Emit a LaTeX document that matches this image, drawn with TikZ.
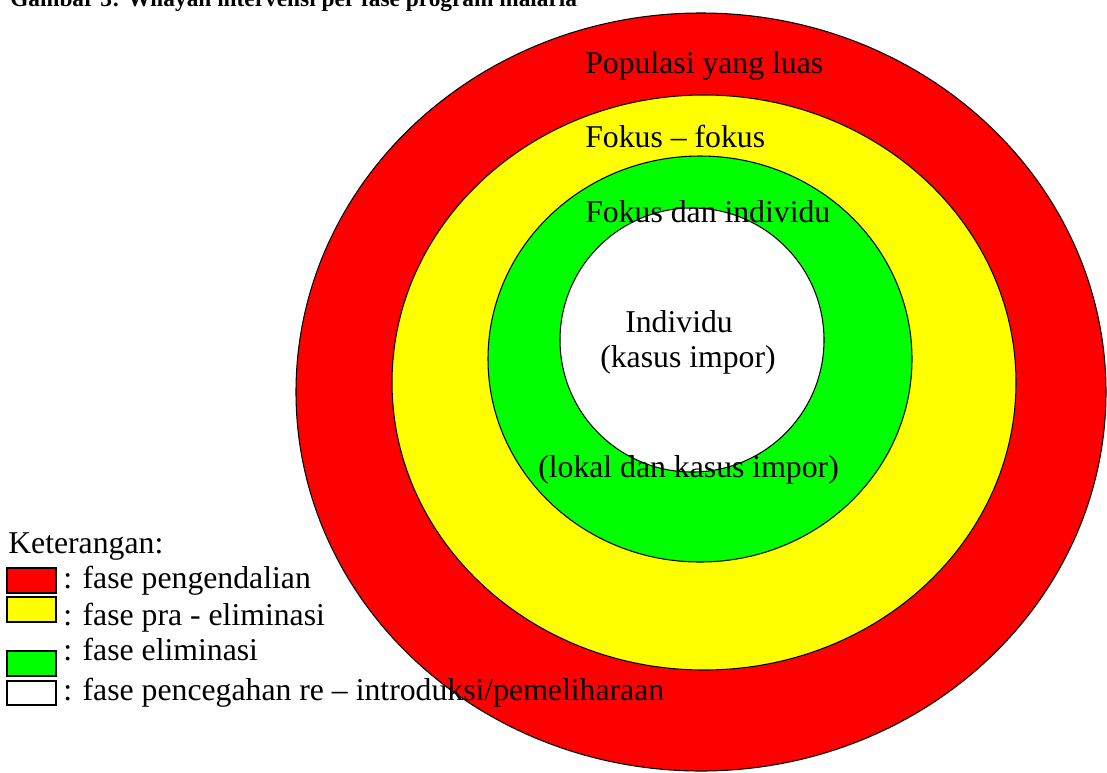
\documentclass[tikz,border=0pt]{standalone}
\usepackage{fontspec}
\setmainfont{Liberation Serif}
\usepackage{xcolor}

\tikzset{
  ring/.style={draw=black, line width=0.8pt},
  legendbox/.style={draw=black, line width=1pt},
  txt/.style={anchor=base west, inner sep=0pt, font=\fontsize{23.8}{28}\selectfont}
}

\begin{document}
\begin{tikzpicture}[x=0.75pt,y=0.75pt,yscale=-1,xscale=1]
        %set diagram left start at 0, and has height of 772
        \useasboundingbox (0,0) rectangle (1107,772);

        %Shape: Ellipse [id:red]
        \draw [ring, fill={rgb, 255:red, 255; green, 0; blue, 0 }] (701,392) ellipse (405 and 379);
        %Shape: Ellipse [id:yellow]
        \draw [ring, fill={rgb, 255:red, 255; green, 255; blue, 0 }] (704,382.5) ellipse (312 and 287.5);
        %Shape: Ellipse [id:green]
        \draw [ring, fill={rgb, 255:red, 0; green, 255; blue, 0 }] (700,359) ellipse (212 and 203);
        %Shape: Circle [id:white]
        \draw [ring, fill=white] (692,340) circle (132);

        % Title (cut off at top)
        \draw (10,6) node [anchor=base west][inner sep=0pt] (title) {\fontsize{17.5}{21}\selectfont\bfseries Gambar 3: Wilayah intervensi per fase program malaria};

        % Text Node
        \draw (585,73) node [txt] (populasi) {Populasi yang luas};
        % Text Node
        \draw (585,147) node [txt] (fokusfokus) {Fokus – fokus};
        % Text Node
        \draw (585,222) node [txt] (fokusind) {Fokus dan individu};
        % Text Node
        \draw (625,332) node [txt] (individu) {Individu};
        % Text Node
        \draw (600,367) node [txt] (kasus) {(kasus impor)};
        % Text Node
        \draw (538,477) node [txt] (lokal) {(lokal dan kasus impor)};

        % Legend
        \draw (8,553) node [txt] (ket) {Keterangan:};
        \draw [legendbox, fill={rgb, 255:red, 255; green, 0; blue, 0 }] (7,568) rectangle (56,593);
        \draw [legendbox, fill={rgb, 255:red, 255; green, 255; blue, 0 }] (7,597) rectangle (56,622);
        \draw [legendbox, fill={rgb, 255:red, 0; green, 255; blue, 0 }] (7,651) rectangle (56,676);
        \draw [legendbox, fill=white] (7,681) rectangle (56,705);
        % Text Node
        \draw (63,588) node [txt] (lgred) {: fase pengendalian};
        % Text Node
        \draw (63,625) node [txt] (lgyellow) {: fase pra - eliminasi};
        % Text Node
        \draw (63,660) node [txt] (lggreen) {: fase eliminasi};
        % Text Node
        \draw (63,700) node [txt] (lgwhite) {: fase pencegahan re – introduksi/pemeliharaan};

\end{tikzpicture}
\end{document}
